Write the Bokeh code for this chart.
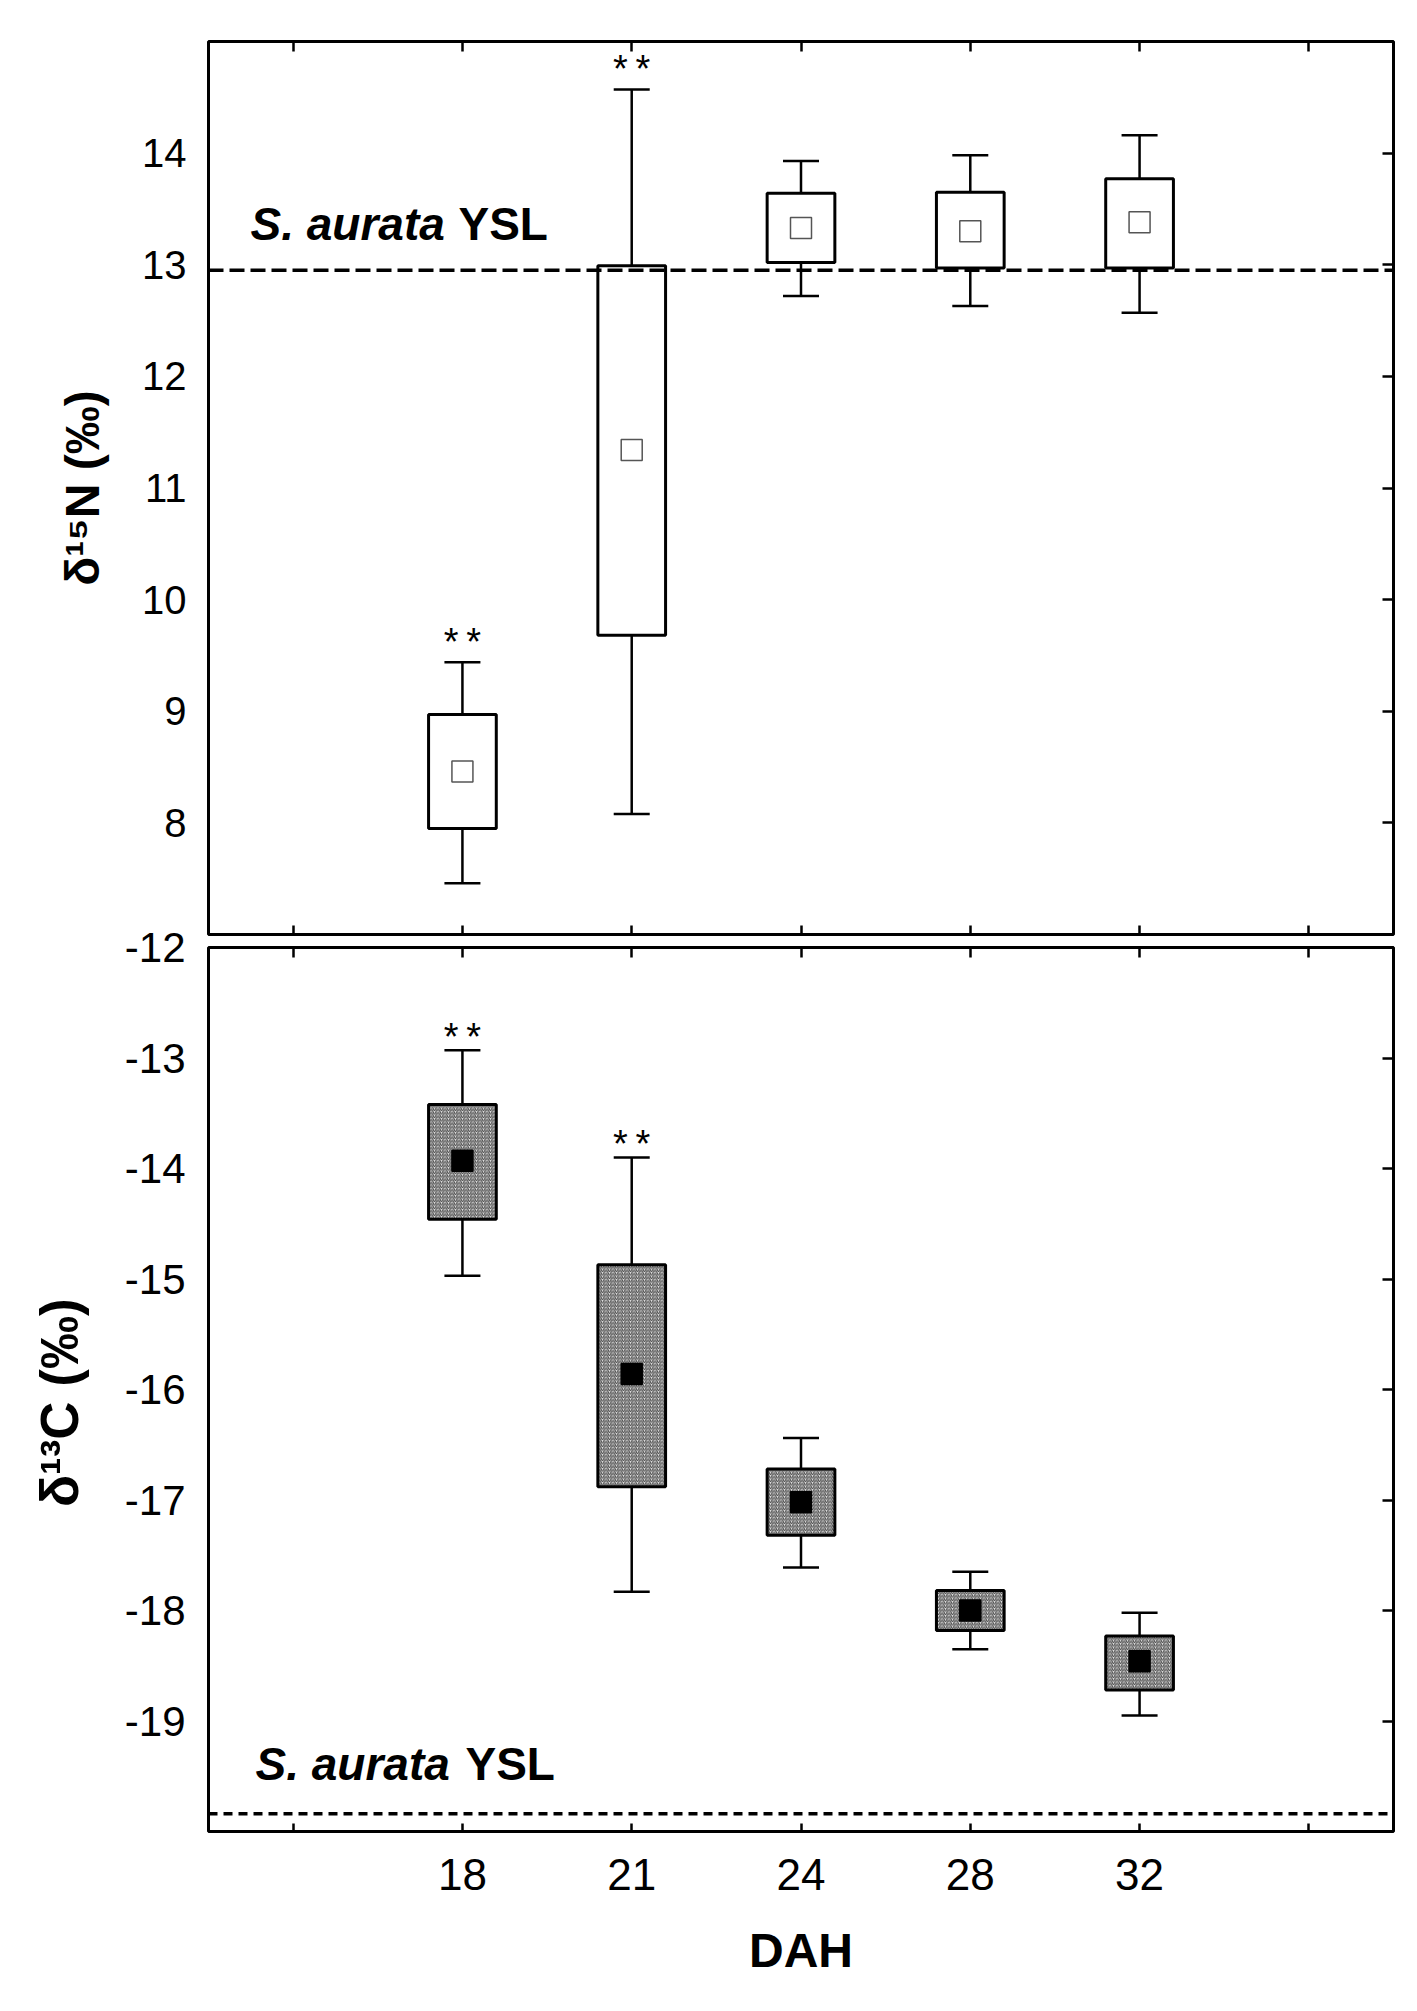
from bokeh.plotting import figure
from bokeh.models import Range1d, LinearAxis, FixedTicker, Span, Label, ColumnDataSource, Title
from bokeh.layouts import column
from bokeh.embed import file_html
from bokeh.resources import INLINE
from bokeh.core.properties import value

# ---------------- data ----------------
days = ["18", "21", "24", "28", "32"]

n_mean = [8.46, 11.34, 13.33, 13.30, 13.38]
n_box_low = [7.95, 9.68, 13.02, 12.97, 12.97]
n_box_high = [8.97, 12.99, 13.64, 13.65, 13.77]
n_whisk_low = [7.46, 8.08, 12.72, 12.63, 12.57]
n_whisk_high = [9.44, 14.57, 13.93, 13.98, 14.16]
n_sig = ["**", "**", "", "", ""]
n_ysl = 12.95

c_mean = [-13.93, -15.86, -17.02, -18.00, -18.46]
c_box_low = [-14.46, -16.88, -17.32, -18.18, -18.72]
c_box_high = [-13.42, -14.87, -16.72, -17.82, -18.23]
c_whisk_low = [-14.97, -17.83, -17.61, -18.35, -18.95]
c_whisk_high = [-12.93, -13.90, -16.44, -17.65, -18.02]
c_sig = ["**", "**", "", "", ""]
c_ysl = -19.84

n_ticks = [8, 9, 10, 11, 12, 13, 14]
c_ticks = [-19, -18, -17, -16, -15, -14, -13, -12]
n_range = (7, 15)
c_range = (-20, -12)

n_title = "δ¹⁵N (‰)"
c_title = "δ¹³C (‰)"
ysl_species = "S. aurata"
ysl_tag = "YSL"
x_title = "DAH"

# ---------------- helpers ----------------
FONT = "Liberation Sans"
xpos = [i + 1 for i in range(len(days))]
xticks = list(range(len(days) + 2))
xlabels = {0: "", len(days) + 1: ""}
xlabels.update({i + 1: d for i, d in enumerate(days)})


def blank_axis(ticks, tick_len):
    return LinearAxis(ticker=FixedTicker(ticks=ticks, minor_ticks=[]),
                      major_tick_in=tick_len, major_tick_out=0,
                      minor_tick_in=0, minor_tick_out=0,
                      major_tick_line_width=2.5, major_tick_line_color="black",
                      axis_line_color=None,
                      major_label_overrides={t: "" for t in ticks},
                      major_label_text_font_size="1px", major_label_standoff=0)


def make_panel(height, yr, yticks, borders, ylab_size, ylab_standoff, title, title_size,
               title_standoff, **extra):
    left, right, top, bottom = borders
    p = figure(width=1417, height=height,
               x_range=Range1d(-0.5, len(days) + 1.5), y_range=Range1d(*yr),
               x_axis_type=None, y_axis_type=None,
               output_backend="svg", toolbar_location=None,
               min_border_left=left, min_border_right=right,
               min_border_top=top, min_border_bottom=bottom,
               outline_line_color="black", outline_line_width=3,
               background_fill_color="white", **extra)
    ax = LinearAxis(ticker=FixedTicker(ticks=yticks, minor_ticks=[]),
                    major_tick_in=0, major_tick_out=0, minor_tick_in=0, minor_tick_out=0,
                    axis_line_color=None,
                    major_label_overrides={t: str(t) for t in yticks},
                    major_label_text_font=FONT, major_label_text_font_size=ylab_size,
                    major_label_text_color="black", major_label_standoff=ylab_standoff,
                    axis_label=title, axis_label_text_font=FONT,
                    axis_label_text_font_style="bold", axis_label_text_font_size=title_size,
                    axis_label_text_color="black", axis_label_standoff=title_standoff)
    p.add_layout(ax, "left")
    p.add_layout(blank_axis(yticks, 11), "right")
    p.add_layout(blank_axis(xticks, 10), "above")
    return p


def draw_boxes(p, mean, lo, hi, wlo, whi, sig, box_kw, mean_fill, mean_line, sig_offset):
    src = ColumnDataSource(dict(x=xpos, mean=mean, lo=lo, hi=hi, wlo=wlo, whi=whi))
    p.segment(x0="x", y0="hi", x1="x", y1="whi", source=src, line_color="black", line_width=2.5)
    p.segment(x0="x", y0="lo", x1="x", y1="wlo", source=src, line_color="black", line_width=2.5)
    p.scatter(x="x", y="whi", source=src, marker="dash", size=36, line_color="black", line_width=2.5)
    p.scatter(x="x", y="wlo", source=src, marker="dash", size=36, line_color="black", line_width=2.5)
    p.vbar(x="x", width=0.4, bottom="lo", top="hi", source=src,
           line_color="black", line_width=3, **box_kw)
    p.scatter(x="x", y="mean", source=src, marker="square", size=21,
              fill_color=mean_fill, line_color=mean_line, line_width=1.5)
    sx = [x for x, s in zip(xpos, sig) if s]
    sy = [y for y, s in zip(whi, sig) if s]
    st = ["\u2009".join(s) for s in sig if s]
    p.text(x=sx, y=sy, text=st, text_font=value(FONT), text_font_size="38px",
           text_align="center", text_baseline="alphabetic", y_offset=sig_offset,
           text_color="black")


def ysl_labels(p, x0, x1, y, size):
    p.add_layout(Label(x=x0, y=y, x_units="screen", y_units="screen", text=ysl_species,
                       text_font=FONT, text_font_style="bold italic", text_font_size=size,
                       text_color="black", text_baseline="alphabetic", text_align="left"))
    p.add_layout(Label(x=x1, y=y, x_units="screen", y_units="screen", text=ysl_tag,
                       text_font=FONT, text_font_style="bold", text_font_size=size,
                       text_color="black", text_baseline="alphabetic", text_align="left"))


# ---------------- top panel: d15N ----------------
p1 = make_panel(938, n_range, n_ticks, (208, 22, 41, 4), "40px", 22,
                n_title, "48px", 30, border_fill_color="white")
p1.add_layout(blank_axis(xticks, 9), "below")
p1.add_layout(Span(location=n_ysl, dimension="width", line_color="black",
                   line_width=3.5, line_dash="15 6"))
draw_boxes(p1, n_mean, n_box_low, n_box_high, n_whisk_low, n_whisk_high, n_sig,
           dict(fill_color="white"), "white", "#555555", -20)
ysl_labels(p1, 42, 250, 711, "46px")

# ---------------- bottom panel: d13C ----------------
p2 = make_panel(1100, c_range, c_ticks, (202, 24, 39, 177), "42px", 23,
                c_title + "\u2002", "53px", 33, border_fill_color=None, border_fill_alpha=0,
                margin=(-30, 0, 0, 0))
bx = LinearAxis(ticker=FixedTicker(ticks=xticks, minor_ticks=[]),
                major_tick_in=8, major_tick_out=0, minor_tick_in=0, minor_tick_out=0,
                major_tick_line_width=2.5, major_tick_line_color="black",
                axis_line_color=None, major_label_overrides=xlabels,
                major_label_text_font=FONT, major_label_text_font_size="44px",
                major_label_text_color="black", major_label_standoff=27)
p2.add_layout(bx, "below")
p2.add_layout(Title(text=x_title, align="center", text_font=FONT, text_font_style="bold",
                    text_font_size="48px", text_color="black", standoff=58), "below")
p2.add_layout(Span(location=c_ysl, dimension="width", line_color="black",
                   line_width=3.5, line_dash="9 6"))
draw_boxes(p2, c_mean, c_box_low, c_box_high, c_whisk_low, c_whisk_high, c_sig,
           dict(fill_color="#e2e2e2", hatch_pattern="/", hatch_color="#444444",
                hatch_scale=3.5, hatch_weight=1.0), "black", "black", -13)
ysl_labels(p2, 47, 257, 68, "46px")

layout = column(p1, p2, spacing=0)
open("out.html", "w").write(file_html(layout, INLINE))
